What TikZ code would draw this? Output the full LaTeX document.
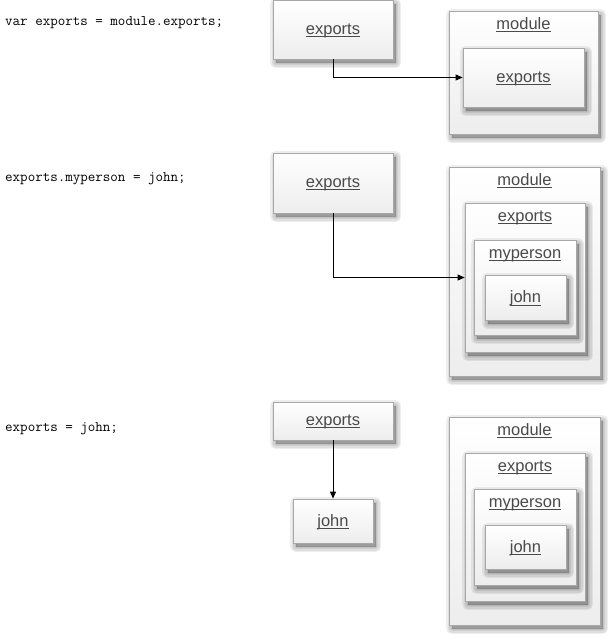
\documentclass[tikz,border=0pt]{standalone}
\usepackage{fontspec}
\setmainfont{Liberation Sans}
\usetikzlibrary{arrows.meta}
\definecolor{lblcol}{HTML}{4A4A4A}
\definecolor{edgecol}{HTML}{A8A8A8}
\definecolor{fillbot}{HTML}{EDEDED}
\newcommand\ulbl[1]{\sbox0{#1}\rlap{\color{lblcol}\vrule height -1.6pt depth 2.6pt width \wd0}\usebox0}
\tikzset{
  shadowlayer/.style={preaction={draw=black, fill=black, opacity=0.065, line width=#1, line join=round,
      transform canvas={shift={(2.5pt,-3.5pt)}}}},
  objbox/.style={shadowlayer=11pt, shadowlayer=8pt, shadowlayer=5pt, shadowlayer=2pt,
    draw=edgecol, line width=0.8pt, top color=white, bottom color=fillbot,
    inner sep=0pt, text depth=1pt, text=lblcol, font=\fontsize{16.5}{19}\selectfont},
  boxlabel/.style={text=lblcol, font=\fontsize{16.5}{19}\selectfont, anchor=base, inner sep=0pt},
  codetext/.style={font=\ttfamily\fontsize{14.6}{17}\selectfont, anchor=base west, inner sep=0pt},
  link/.style={line width=1pt, -{Triangle[length=7pt,width=6pt]}}
}
\begin{document}
\begin{tikzpicture}[x=1pt,y=-1pt]
\useasboundingbox (0,0) rectangle (615,640);
% ---------- panel 1
\node[codetext] (c1) at (5,25) {var exports = module.exports;};
\node[objbox, minimum width=120pt, minimum height=59pt] (A1) at (333,29.5) {\ulbl{exports}};
\node[objbox, minimum width=149pt, minimum height=123pt] (M1) at (523.5,72.5) {};
\node[boxlabel] (M1l) at (523.5,29.5) {\ulbl{module}};
\node[objbox, minimum width=121pt, minimum height=59pt] (E1) at (523.5,77.5) {\ulbl{exports}};
\draw[link] (A1.south) |- (E1.west);
% ---------- panel 2
\node[codetext] (c2) at (5,181) {exports.myperson = john;};
\node[objbox, minimum width=120pt, minimum height=60pt] (A2) at (333,183) {\ulbl{exports}};
\node[objbox, minimum width=151pt, minimum height=209pt] (M2) at (524.5,271.5) {};
\node[boxlabel] (M2l) at (524.5,185.5) {\ulbl{module}};
\node[objbox, minimum width=120pt, minimum height=149pt] (E2) at (525,277.5) {};
\node[boxlabel] (E2l) at (525,221.5) {\ulbl{exports}};
\node[objbox, minimum width=102pt, minimum height=95pt] (P2) at (525,287.5) {};
\node[boxlabel] (P2l) at (525,258.5) {\ulbl{myperson}};
\node[objbox, minimum width=81pt, minimum height=45pt] (J2) at (525.5,297.5) {\ulbl{john}};
\draw[link] (A2.south) |- (E2.west);
% ---------- panel 3
\node[codetext] (c3) at (5,431) {exports = john;};
\node[objbox, minimum width=120pt, minimum height=38pt] (A3) at (333,421) {\ulbl{exports}};
\node[objbox, minimum width=80pt, minimum height=44pt] (J3) at (333,521) {\ulbl{john}};
\draw[link] (A3.south) -- (J3.north);
\node[objbox, minimum width=151pt, minimum height=208pt] (M3) at (524.5,521) {};
\node[boxlabel] (M3l) at (524.5,435.5) {\ulbl{module}};
\node[objbox, minimum width=120pt, minimum height=148pt] (E3) at (525,527) {};
\node[boxlabel] (E3l) at (525,471.5) {\ulbl{exports}};
\node[objbox, minimum width=102pt, minimum height=96pt] (P3) at (525,537) {};
\node[boxlabel] (P3l) at (525,507.5) {\ulbl{myperson}};
\node[objbox, minimum width=81pt, minimum height=44pt] (J3b) at (525.5,547) {\ulbl{john}};
\end{tikzpicture}
\end{document}
